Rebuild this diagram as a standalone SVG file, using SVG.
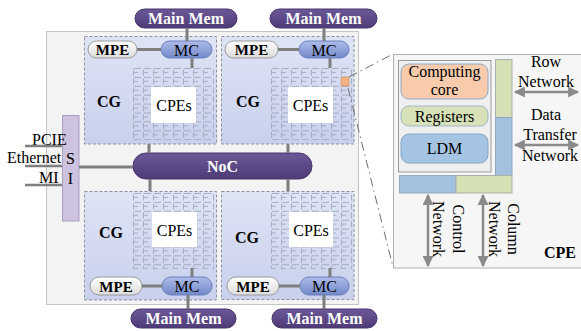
<svg xmlns="http://www.w3.org/2000/svg" width="581" height="331" viewBox="0 0 581 331">
<style>
text{font-family:"Liberation Serif","Times New Roman",serif;font-size:16px;fill:#000}
.w{fill:#fff;font-weight:bold}
.b{font-weight:bold}
.mem{fill:url(#gPur);stroke:#46346c;stroke-width:1}
.mc{fill:url(#gMC);stroke:#6a7fbe;stroke-width:1}
.mpe{fill:url(#gMPE);stroke:#9a9a9a;stroke-width:1}
.cg{fill:url(#gCG);stroke:#8d90a0;stroke-width:1;stroke-dasharray:3 2}
.grid{fill:url(#pGrid)}
.cpes{fill:#fff}
.con{stroke:#7f7f7f;stroke-width:3;fill:none}
.thin{stroke:#7f7f7f;stroke-width:2.5;fill:none}
.dd{stroke:#6f6f6f;stroke-width:1;fill:none;stroke-dasharray:9 4 1.5 4}
.arr{stroke:#8a8a8a;stroke-width:2.5;fill:none;marker-start:url(#ah);marker-end:url(#ah)}
</style>
<defs>
<linearGradient id="gPur" x1="0" y1="0" x2="0" y2="1"><stop offset="0" stop-color="#6c5898"/><stop offset="1" stop-color="#4d3a76"/></linearGradient>
<linearGradient id="gMC" x1="0" y1="0" x2="0" y2="1"><stop offset="0" stop-color="#aebcea"/><stop offset="1" stop-color="#7288c8"/></linearGradient>
<linearGradient id="gMPE" x1="0" y1="0" x2="0" y2="1"><stop offset="0" stop-color="#ffffff"/><stop offset="1" stop-color="#dcdcdc"/></linearGradient>
<linearGradient id="gCG" x1="0" y1="0" x2="0" y2="1"><stop offset="0" stop-color="#dfe4f5"/><stop offset="1" stop-color="#c8d0ec"/></linearGradient>
<pattern id="pGrid" width="10" height="8.9" patternUnits="userSpaceOnUse">
<path d="M1,0.5 H8 M0.5,1.5 V7.5 M1,4.45 H5" stroke="#9ca0b4" stroke-width="0.8" fill="none"/>
</pattern>
<marker id="ah" viewBox="0 0 10 10" refX="9" refY="5" markerWidth="4.4" markerHeight="4.4" orient="auto-start-reverse" markerUnits="strokeWidth"><path d="M0,0 L10,5 L0,10 Z" fill="#8a8a8a"/></marker>
</defs>

<rect x="0" y="0" width="581" height="331" fill="#fff"/>

<g id="chip"><rect x="46.5" y="31.5" width="312" height="273" fill="#f3f3f3" stroke="#c4c4c4"/></g>

<g id="cg-tl">
<rect class="cg" x="84.5" y="36.5" width="132" height="107.5"/>
<g transform="translate(133,68)"><rect class="grid" width="81" height="72"/></g>
<rect class="cpes" x="151" y="87" width="45" height="36"/>
<text x="174" y="111" text-anchor="middle">CPEs</text>
<text class="b" x="109" y="107" text-anchor="middle">CG</text>
</g>
<g id="cg-tr">
<rect class="cg" x="221.5" y="36.5" width="132.5" height="107.5"/>
<g transform="translate(271,68)"><rect class="grid" width="81" height="72"/></g>
<rect class="cpes" x="288" y="87" width="45" height="36"/>
<text x="310.5" y="111" text-anchor="middle">CPEs</text>
<text class="b" x="248" y="107" text-anchor="middle">CG</text>
</g>
<g id="cg-bl">
<rect class="cg" x="84.5" y="191.5" width="132" height="108.5"/>
<g transform="translate(133,193)"><rect class="grid" width="81" height="76"/></g>
<rect class="cpes" x="152" y="212" width="45" height="35"/>
<text x="174.5" y="236" text-anchor="middle">CPEs</text>
<text class="b" x="111" y="238" text-anchor="middle">CG</text>
</g>
<g id="cg-br">
<rect class="cg" x="221.5" y="191.5" width="132.5" height="108"/>
<g transform="translate(271,193)"><rect class="grid" width="81" height="76"/></g>
<rect class="cpes" x="289" y="212" width="44" height="35"/>
<text x="311" y="236" text-anchor="middle">CPEs</text>
<text class="b" x="247" y="243" text-anchor="middle">CG</text>
</g>

<g id="cpe-hl"><rect x="341" y="77" width="8" height="9" fill="#f4b183" stroke="#c98d5e" stroke-width="0.6"/></g>

<g id="mem-tl"><rect class="mem" x="135" y="9" width="102" height="19" rx="9.5"/><text class="w" x="186" y="24" text-anchor="middle">Main Mem</text></g>
<g id="mem-tr"><rect class="mem" x="270" y="9" width="107" height="19" rx="9.5"/><text class="w" x="323.5" y="24" text-anchor="middle">Main Mem</text></g>
<g id="mem-bl"><rect class="mem" x="131" y="309" width="105" height="19" rx="9.5"/><text class="w" x="183.5" y="324" text-anchor="middle">Main Mem</text></g>
<g id="mem-br"><rect class="mem" x="272" y="309" width="105" height="19" rx="9.5"/><text class="w" x="324.5" y="324" text-anchor="middle">Main Mem</text></g>

<g id="mpe-tl"><rect class="mpe" x="88" y="41" width="49" height="17" rx="8.5"/><text class="b" x="112.5" y="55" text-anchor="middle" style="font-size:15px">MPE</text></g>
<g id="mc-tl"><rect class="mc" x="161" y="41" width="51" height="17" rx="8.5"/><text x="186.5" y="55.5" text-anchor="middle">MC</text></g>
<g id="mpe-tr"><rect class="mpe" x="225" y="41" width="53" height="17" rx="8.5"/><text class="b" x="251.5" y="55" text-anchor="middle" style="font-size:15px">MPE</text></g>
<g id="mc-tr"><rect class="mc" x="299" y="41" width="50" height="17" rx="8.5"/><text x="324" y="55.5" text-anchor="middle">MC</text></g>
<g id="mpe-bl"><rect class="mpe" x="90" y="277" width="52" height="18" rx="9"/><text class="b" x="116" y="291.5" text-anchor="middle" style="font-size:15px">MPE</text></g>
<g id="mc-bl"><rect class="mc" x="162" y="277" width="50" height="18" rx="9"/><text x="187" y="292" text-anchor="middle">MC</text></g>
<g id="mpe-br"><rect class="mpe" x="227" y="277" width="52" height="18" rx="9"/><text class="b" x="253" y="291.5" text-anchor="middle" style="font-size:15px">MPE</text></g>
<g id="mc-br"><rect class="mc" x="300" y="277" width="49" height="18" rx="9"/><text x="324.5" y="292" text-anchor="middle">MC</text></g>

<g id="noc"><rect class="mem" x="133" y="153" width="179" height="26" rx="13"/><text class="w" x="222.5" y="172" text-anchor="middle">NoC</text></g>

<g id="si"><rect x="62.5" y="115.5" width="16.5" height="105.5" fill="#cdc3df" stroke="#a99dc1"/><text x="70.5" y="164" text-anchor="middle">S</text><text x="70.5" y="184" text-anchor="middle">I</text></g>

<g id="io-labels">
<text x="32" y="145">PCIE</text>
<text x="7" y="163">Ethernet</text>
<text x="39" y="183">MI</text>
</g>

<g id="cpe-panel">
<rect x="393.5" y="54.5" width="200" height="213.5" fill="#f6f6f6" stroke="#b0b0b0"/>
<rect x="398.5" y="60.5" width="92.5" height="111.5" fill="#efefef" stroke="#9a9a9a"/>
<rect x="401" y="64" width="87" height="35" rx="8" fill="#f8cbad" stroke="#8eaacb"/>
<text x="444.5" y="77" text-anchor="middle">Computing</text>
<text x="444.5" y="95" text-anchor="middle">core</text>
<rect x="401" y="106" width="87" height="20" rx="8" fill="#d7e2b8" stroke="#a3b7c9"/>
<text x="444.5" y="122" text-anchor="middle">Registers</text>
<rect x="401" y="134" width="87" height="29" rx="8" fill="#a5c4e3" stroke="#86a6c8"/>
<text x="444.5" y="154" text-anchor="middle">LDM</text>
<rect x="495.5" y="59.5" width="16.5" height="58" fill="#d5e0b6" stroke="#a9b2a9"/>
<rect x="495.5" y="117.5" width="16.5" height="58" fill="#a3c1df" stroke="#93a8bf"/>
<rect x="399.5" y="175.5" width="56.5" height="17.5" fill="#a3c1df" stroke="#93a8bf"/>
<rect x="456" y="175.5" width="56" height="17.5" fill="#d5e0b6" stroke="#a9b2a9"/>
<text x="546" y="67" text-anchor="middle">Row</text>
<text x="546" y="87" text-anchor="middle">Network</text>
<text x="546" y="120" text-anchor="middle">Data</text>
<text x="550" y="140" text-anchor="middle">Transfer</text>
<text x="550" y="161" text-anchor="middle">Network</text>
<text transform="translate(433,229) rotate(90)" text-anchor="middle">Network</text>
<text transform="translate(453,229) rotate(90)" text-anchor="middle">Control</text>
<text transform="translate(489,229) rotate(90)" text-anchor="middle">Network</text>
<text transform="translate(508,229) rotate(90)" text-anchor="middle">Column</text>
<text class="b" x="560" y="258" text-anchor="middle">CPE</text>
</g>

<g id="connectors">
<path class="con" d="M187,28 V41 M324,28 V41 M188,295 V309 M324,295 V309"/>
<path class="con" d="M137,49.5 H161 M278,49.5 H299 M142,286 H162 M279,286 H300"/>
<path class="con" d="M192,58 V68 M330,58 V68 M192,268 V277 M330,268 V277"/>
<path class="con" d="M149,144 V153 M288,144 V153 M150,179 V191 M288,179 V191"/>
<path class="con" d="M79,167 H133"/>
<path class="thin" d="M25,146 H62 M25,166 H62 M25,185 H62"/>
<path class="dd" d="M349,77 L393,54 M348,88 L393,267"/>
<path class="arr" d="M515,92 H578"/>
<path class="arr" d="M515,145 H578"/>
<path class="arr" d="M428,195 V266"/>
<path class="arr" d="M483,195 V266"/>
</g>
</svg>
